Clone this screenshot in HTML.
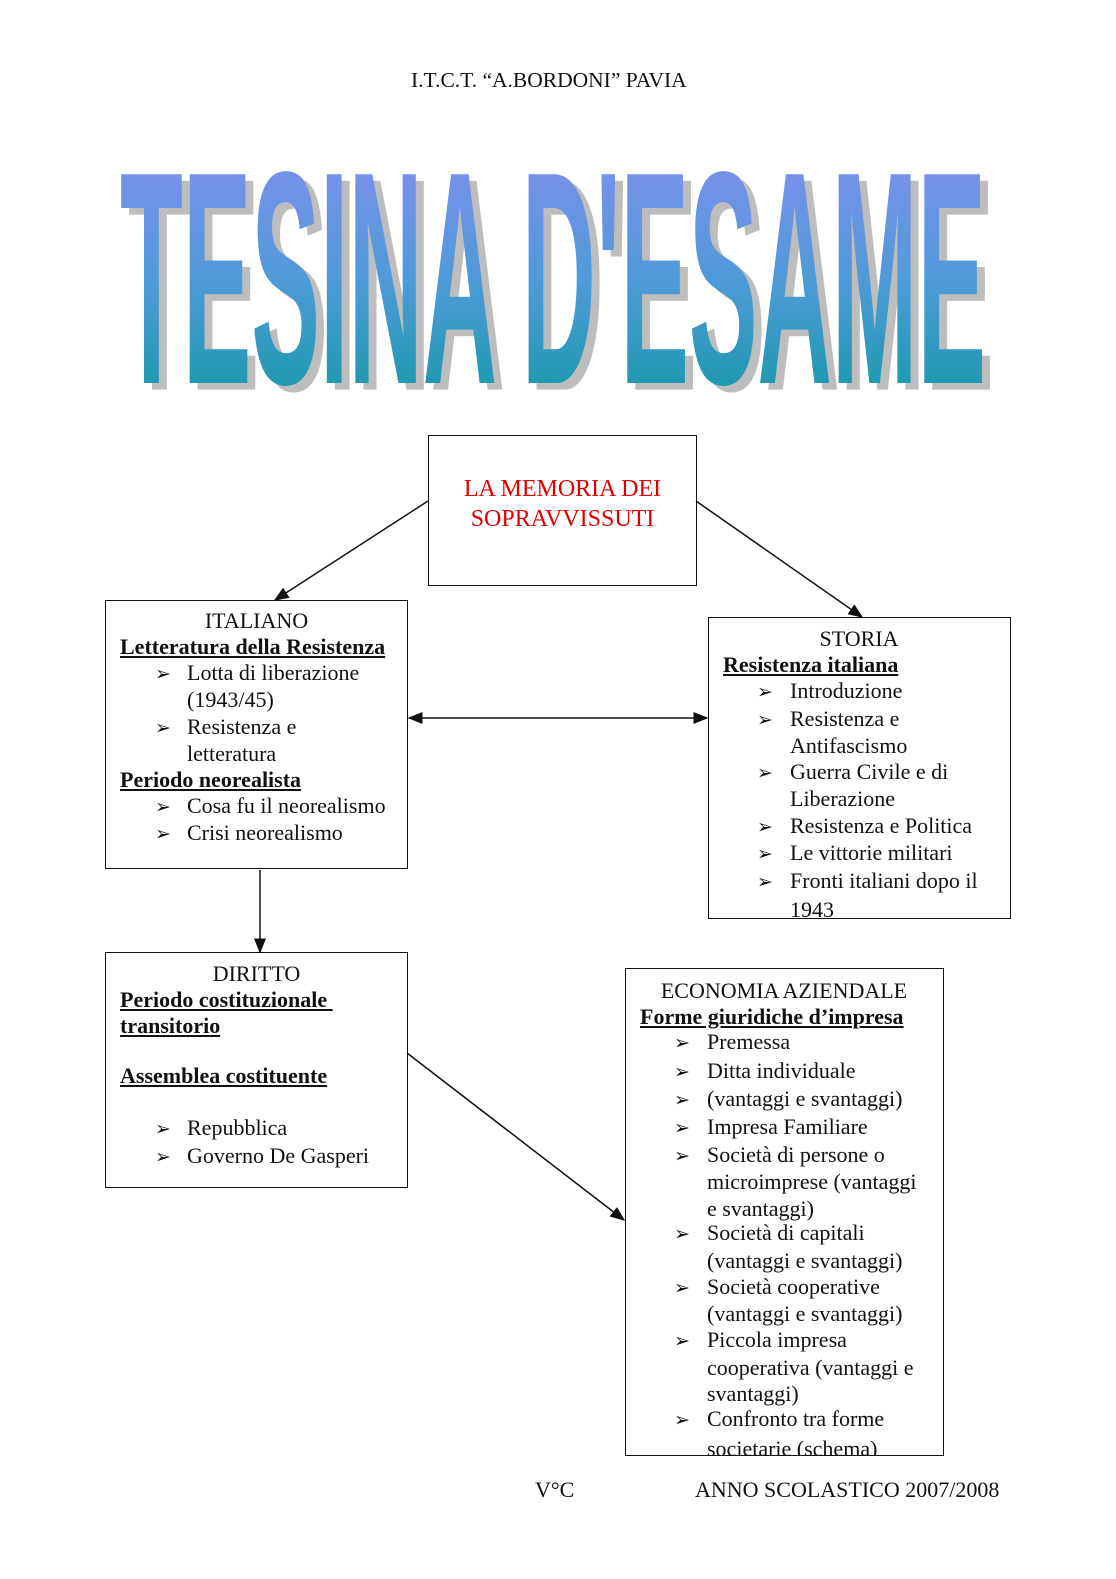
<!DOCTYPE html>
<html><head><meta charset="utf-8"><style>
body{margin:0;background:#fff;}
#p{position:relative;width:1116px;height:1579px;overflow:hidden;font-family:"Liberation Serif",serif;color:#111;}
.t{position:absolute;font-size:22px;line-height:26px;white-space:nowrap;}
.b{position:absolute;border:1.5px solid #111;box-sizing:border-box;overflow:hidden;}
.u{font-weight:bold;text-decoration:underline;}
.ar{font-family:"DejaVu Sans",sans-serif;font-size:19px;}
</style></head><body><div id="p">
<div class="t" style="left:411px;top:67px;font-size:21.5px">I.T.C.T. “A.BORDONI” PAVIA</div>

<svg style="position:absolute;left:0;top:0" width="1116" height="1579">
<defs><linearGradient id="g" x1="0" y1="0" x2="0" y2="1">
<stop offset="0" stop-color="#8e8cf4"/><stop offset="0.5" stop-color="#4f9ad8"/><stop offset="1" stop-color="#04989a"/></linearGradient>
<marker id="m" markerWidth="10" markerHeight="10" refX="9" refY="5" orient="auto"><path d="M0,1 L10,5 L0,9 z" fill="#111"/></marker>
<marker id="ms" markerWidth="10" markerHeight="10" refX="1" refY="5" orient="auto"><path d="M10,1 L0,5 L10,9 z" fill="#111"/></marker></defs>
<g transform="translate(0,383) scale(1,1.64)">
<text x="128" y="4" font-family="Liberation Sans" font-weight="bold" font-size="185" textLength="866" lengthAdjust="spacingAndGlyphs" fill="#bdbdbd">TESINA D'ESAME</text>
<text x="120" y="0" font-family="Liberation Sans" font-weight="bold" font-size="185" textLength="866" lengthAdjust="spacingAndGlyphs" fill="url(#g)">TESINA D'ESAME</text>
</g>
<g stroke="#111" stroke-width="1.5" fill="none">
<line x1="428" y1="501" x2="275" y2="600" marker-end="url(#m)"/>
<line x1="696" y1="501" x2="862" y2="617" marker-end="url(#m)"/>
<line x1="409" y1="718" x2="707" y2="718" marker-end="url(#m)" marker-start="url(#ms)"/>
<line x1="260" y1="870" x2="260" y2="952" marker-end="url(#m)"/>
<line x1="407" y1="1053" x2="624" y2="1220" marker-end="url(#m)"/>
</g>
</svg>

<div class="b" style="left:428px;top:435px;width:269px;height:151px"></div>
<div class="t" style="left:428px;width:269px;text-align:center;top:474px;font-size:24px;line-height:30px;color:#e00000">LA MEMORIA DEI<br>SOPRAVVISSUTI</div>

<div class="b" style="left:105px;top:600px;width:303px;height:269px"></div>
<div class="t" style="left:105px;width:303px;text-align:center;top:608px">ITALIANO</div>
<div class="t u" style="left:120px;top:634px">Letteratura della Resistenza</div>
<div class="t" style="left:155px;top:660px"><span class="ar">➢</span></div><div class="t" style="left:187px;top:660px">Lotta di liberazione</div>
<div class="t" style="left:187px;top:687px">(1943/45)</div>
<div class="t" style="left:155px;top:714px"><span class="ar">➢</span></div><div class="t" style="left:187px;top:714px">Resistenza e</div>
<div class="t" style="left:187px;top:741px">letteratura</div>
<div class="t u" style="left:120px;top:767px">Periodo neorealista</div>
<div class="t" style="left:155px;top:793px"><span class="ar">➢</span></div><div class="t" style="left:187px;top:793px">Cosa fu il neorealismo</div>
<div class="t" style="left:155px;top:820px"><span class="ar">➢</span></div><div class="t" style="left:187px;top:820px">Crisi neorealismo</div>

<div class="b" style="left:708px;top:617px;width:303px;height:302px">
<div class="t" style="left:0;width:300px;text-align:center;top:8px">STORIA</div>
<div class="t u" style="left:14px;top:34px">Resistenza italiana</div>
<div class="t" style="left:48px;top:60px"><span class="ar">➢</span></div><div class="t" style="left:81px;top:60px">Introduzione</div>
<div class="t" style="left:48px;top:88px"><span class="ar">➢</span></div><div class="t" style="left:81px;top:88px">Resistenza e</div>
<div class="t" style="left:81px;top:115px">Antifascismo</div>
<div class="t" style="left:48px;top:141px"><span class="ar">➢</span></div><div class="t" style="left:81px;top:141px">Guerra Civile e di</div>
<div class="t" style="left:81px;top:168px">Liberazione</div>
<div class="t" style="left:48px;top:195px"><span class="ar">➢</span></div><div class="t" style="left:81px;top:195px">Resistenza e Politica</div>
<div class="t" style="left:48px;top:222px"><span class="ar">➢</span></div><div class="t" style="left:81px;top:222px">Le vittorie militari</div>
<div class="t" style="left:48px;top:250px"><span class="ar">➢</span></div><div class="t" style="left:81px;top:250px">Fronti italiani dopo il</div>
<div class="t" style="left:81px;top:279px">1943</div>
</div>

<div class="b" style="left:105px;top:952px;width:303px;height:236px"></div>
<div class="t" style="left:105px;width:303px;text-align:center;top:961px">DIRITTO</div>
<div class="t u" style="left:120px;top:987px">Periodo costituzionale&nbsp;</div>
<div class="t u" style="left:120px;top:1013px">transitorio</div>
<div class="t u" style="left:120px;top:1063px">Assemblea costituente</div>
<div class="t" style="left:155px;top:1115px"><span class="ar">➢</span></div><div class="t" style="left:187px;top:1115px">Repubblica</div>
<div class="t" style="left:155px;top:1143px"><span class="ar">➢</span></div><div class="t" style="left:187px;top:1143px">Governo De Gasperi</div>

<div class="b" style="left:625px;top:968px;width:319px;height:488px">
<div class="t" style="left:0;width:316px;text-align:center;top:9px">ECONOMIA AZIENDALE</div>
<div class="t u" style="left:14px;top:35px">Forme giuridiche d’impresa</div>
<div class="t" style="left:48px;top:60px"><span class="ar">➢</span></div><div class="t" style="left:81px;top:60px">Premessa</div>
<div class="t" style="left:48px;top:89px"><span class="ar">➢</span></div><div class="t" style="left:81px;top:89px">Ditta individuale</div>
<div class="t" style="left:48px;top:117px"><span class="ar">➢</span></div><div class="t" style="left:81px;top:117px">(vantaggi e svantaggi)</div>
<div class="t" style="left:48px;top:145px"><span class="ar">➢</span></div><div class="t" style="left:81px;top:145px">Impresa Familiare</div>
<div class="t" style="left:48px;top:173px"><span class="ar">➢</span></div><div class="t" style="left:81px;top:173px">Società di persone o</div>
<div class="t" style="left:81px;top:200px">microimprese (vantaggi</div>
<div class="t" style="left:81px;top:227px">e svantaggi)</div>
<div class="t" style="left:48px;top:251px"><span class="ar">➢</span></div><div class="t" style="left:81px;top:251px">Società di capitali</div>
<div class="t" style="left:81px;top:279px">(vantaggi e svantaggi)</div>
<div class="t" style="left:48px;top:305px"><span class="ar">➢</span></div><div class="t" style="left:81px;top:305px">Società cooperative</div>
<div class="t" style="left:81px;top:332px">(vantaggi e svantaggi)</div>
<div class="t" style="left:48px;top:358px"><span class="ar">➢</span></div><div class="t" style="left:81px;top:358px">Piccola impresa</div>
<div class="t" style="left:81px;top:386px">cooperativa (vantaggi e</div>
<div class="t" style="left:81px;top:412px">svantaggi)</div>
<div class="t" style="left:48px;top:437px"><span class="ar">➢</span></div><div class="t" style="left:81px;top:437px">Confronto tra forme</div>
<div class="t" style="left:81px;top:467px">societarie (schema)</div>
</div>

<div class="t" style="left:535px;top:1477px">V°C</div>
<div class="t" style="left:695px;top:1477px">ANNO SCOLASTICO 2007/2008</div>
</div></body></html>
